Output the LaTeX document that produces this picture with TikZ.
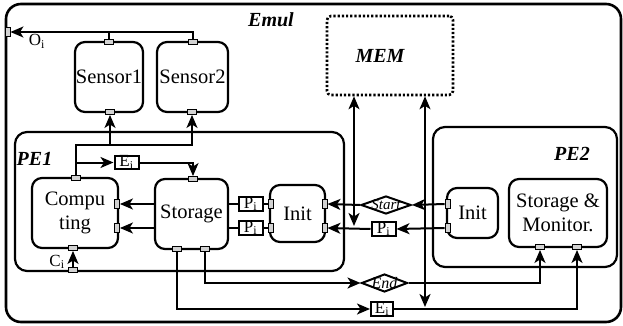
\documentclass[tikz,border=0pt]{standalone}
\usepackage{fontspec}
\setmainfont{Liberation Serif}
\usetikzlibrary{arrows.meta,shapes.geometric}
\newcommand\bigfnt{\fontsize{20.5}{24}\selectfont}
\newcommand\smfnt{\fontsize{17}{19}\selectfont}
\newcommand\labfnt{\fontsize{20}{24}\selectfont\bfseries\itshape}
\begin{document}
\begin{tikzpicture}[x=1pt,y=-1pt,
  box/.style={draw, line width=2.2pt, rounded corners=10pt, inner sep=0pt, align=center, font=\bigfnt},
  port/.style={draw, line width=0.9pt, fill=gray!35, minimum width=9pt, minimum height=5pt, inner sep=0pt},
  vport/.style={port, minimum width=5pt, minimum height=9pt},
  tag/.style={draw, line width=2pt, fill=white, inner sep=0pt, minimum width=24pt, minimum height=13pt, font=\smfnt},
  dia/.style={draw, line width=2pt, fill=white, inner sep=0pt, shape=diamond, font=\smfnt\itshape},
  lab/.style={font=\labfnt, inner sep=0pt, anchor=base},
  sm/.style={font=\smfnt, inner sep=0pt, anchor=base},
  conn/.style={line width=2pt},
  arr/.style={conn, -{Stealth[length=13pt,width=11pt,inset=3.5pt]}},
  darr/.style={conn, {Stealth[length=13pt,width=11pt,inset=3.5pt]}-{Stealth[length=13pt,width=11pt,inset=3.5pt]}}
]
\useasboundingbox (0,0) rectangle (623,326);
\fill[white] (0,0) rectangle (623,326);

% containers
\node[box, rounded corners=15pt, line width=2.6pt, minimum width=615pt, minimum height=318pt] (emul) at (313.5,163) {};
\node[lab] at (271,27) {Emul};
\node[box, dotted, line width=2.6pt, rounded corners=4pt, minimum width=126pt, minimum height=79pt] (mem) at (390,55.5) {};
\node[lab] at (380,63) {MEM};
\node[box, rounded corners=12pt, minimum width=329pt, minimum height=139pt] (pe1) at (179.5,201.5) {};
\node[lab] at (34.5,165) {PE1};
\node[box, rounded corners=12pt, minimum width=184pt, minimum height=140pt] (pe2) at (525,197) {};
\node[lab] at (572,160) {PE2};

% blocks
\node[box, minimum width=68pt, minimum height=70pt] (sensor1) at (109,77) {Sensor1};
\node[box, minimum width=71pt, minimum height=70pt] (sensor2) at (192.5,77) {Sensor2};
\node[box, minimum width=86pt, minimum height=70pt] (computing) at (75,213) {Compu\\ting};
\node[box, minimum width=73pt, minimum height=70pt] (storage) at (191.5,214) {Storage};
\node[box, minimum width=55pt, minimum height=57pt] (init1) at (297.5,213.5) {Init};
\node[box, minimum width=51pt, minimum height=50pt] (init2) at (472.5,213) {Init};
\node[box, minimum width=98pt, minimum height=68pt] (sm) at (558,213) {Storage \&\\Monitor.};

% ports
\node[port] (s1t) at (109,42) {};
\node[port] (s1b) at (110,112) {};
\node[port] (s2t) at (193,42) {};
\node[port] (s2b) at (192,112) {};
\node[vport] (op) at (7.5,32) {};
\node[port] (ctop) at (76,178) {};
\node[port] (cbot) at (73,248) {};
\node[vport] (cr1) at (117,204) {};
\node[vport] (cr2) at (117,228) {};
\node[port] (pe1p) at (73,270) {};
\node[port] (stop) at (193,179) {};
\node[port] (sb1) at (177,249) {};
\node[port] (sb2) at (205,249) {};
\node[vport] (i1l1) at (270.5,204) {};
\node[vport] (i1l2) at (270.5,228) {};
\node[vport] (i1r1) at (324.5,204) {};
\node[vport] (i1r2) at (324.5,228) {};
\node[vport] (i2l1) at (447.5,204) {};
\node[vport] (i2l2) at (447.5,228) {};
\node[port] (smb1) at (540,247) {};
\node[port] (smb2) at (577,247) {};

% labels
\node[sm] at (37,46) {O\textsubscript{i}};
\node[sm] at (57,266) {C\textsubscript{i}};

% connectors
\coordinate (j0) at (109,32);
\draw[conn] (s1t.north) -- (j0);
\draw[arr] (s2t.north) |- (op.east);
\coordinate (j1) at (76,145);
\draw[arr] (ctop.north) -- (j1) -| (s2b.south);
\draw[arr] (j1 -| s1b) -- (s1b.south);
\coordinate (j2) at (76,162.5);
\node[tag] (ei1) at (126.5,162.5) {E\textsubscript{i}};
\draw[arr] (j2) -- (ei1.west);
\draw[arr] (ei1.east) -| (stop.north);
\draw[arr] (storage.west |- cr1) -- (cr1.east);
\draw[arr] (storage.west |- cr2) -- (cr2.east);
\node[tag] (p1) at (250.5,204) {P\textsubscript{i}};
\node[tag] (p2) at (250.5,228) {P\textsubscript{i}};
\draw[conn] (storage.east |- p1) -- (p1.west);
\draw[conn] (p1.east) -- (i1l1.west);
\draw[conn] (storage.east |- p2) -- (p2.west);
\draw[conn] (p2.east) -- (i1l2.west);
\draw[arr] (pe1p.north) -- (cbot.south);

\coordinate (m1a) at (354,226);
\draw[darr] (m1a) -- (m1a |- mem.south);
\coordinate (m2a) at (425,307);
\draw[darr] (m2a) -- (m2a |- mem.south);

\node[dia, minimum width=50pt, minimum height=18pt, font=\fontsize{15}{17}\selectfont\itshape] (startd) at (386,205) {\makebox[0pt]{\smash{\raisebox{-4.5pt}{Start}}}};
\node[tag] (p3) at (383.5,229) {P\textsubscript{i}};
\draw[arr] (i2l1.west) -- (startd.east);
\draw[arr] (startd.west) -- (i1r1.east);
\draw[arr] (i2l2.west) -- (p3.east);
\draw[arr] (p3.west) -- (i1r2.east);

\node[dia, minimum width=46pt, minimum height=18pt, font=\fontsize{16}{18}\selectfont\itshape] (endd) at (384.5,283) {\makebox[0pt]{\smash{\raisebox{-5pt}{End}}}};
\node[tag, minimum width=22pt] (ei2) at (382,309) {E\textsubscript{i}};
\draw[arr] (sb1.south) |- (ei2.west);
\draw[arr] (ei2.east) -| (smb2.south);
\draw[arr] (sb2.south) |- (endd.west);
\draw[arr] (endd.east) -| (smb1.south);
\end{tikzpicture}
\end{document}
